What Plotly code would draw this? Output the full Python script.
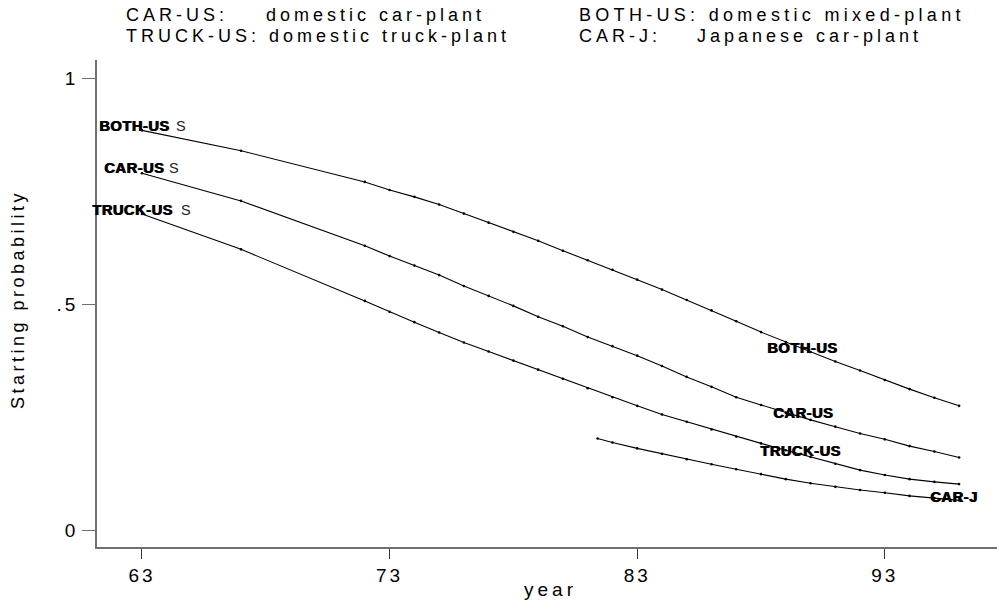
import plotly.graph_objects as go

# ---------------- data ----------------
years = [63, 67, 72, 73, 74, 75, 76, 77, 78, 79, 80, 81, 82, 83, 84, 85, 86, 87,
         88, 89, 90, 91, 92, 93, 94, 95, 96]
both_us = [0.885, 0.840, 0.771, 0.753, 0.738, 0.721, 0.701, 0.681, 0.661, 0.641,
           0.619, 0.598, 0.577, 0.555, 0.533, 0.510, 0.487, 0.463, 0.439, 0.417,
           0.395, 0.374, 0.354, 0.333, 0.313, 0.294, 0.276]
car_us = [0.790, 0.729, 0.630, 0.607, 0.586, 0.565, 0.541, 0.519, 0.497, 0.473,
          0.452, 0.428, 0.408, 0.387, 0.364, 0.340, 0.318, 0.295, 0.278, 0.261,
          0.245, 0.230, 0.215, 0.202, 0.187, 0.175, 0.162]
truck_us = [0.700, 0.622, 0.508, 0.484, 0.461, 0.438, 0.416, 0.396, 0.376, 0.356,
            0.336, 0.315, 0.295, 0.276, 0.257, 0.241, 0.224, 0.208, 0.193, 0.178,
            0.163, 0.148, 0.134, 0.123, 0.114, 0.108, 0.103]
years_j = [81.4, 82, 83, 84, 85, 86, 87, 88, 89, 90, 91, 92, 93, 94, 95, 96]
car_j = [0.204, 0.195, 0.182, 0.170, 0.158, 0.147, 0.136, 0.125, 0.114, 0.105,
         0.097, 0.090, 0.084, 0.077, 0.072, 0.067]

x_ticks = [63, 73, 83, 93]
x_tick_labels = ["63", "73", "83", "93"]
y_ticks = [0, 0.5, 1]
y_tick_labels = ["0", ".5", "1"]

series_names = ["BOTH-US", "CAR-US", "TRUCK-US", "CAR-J"]
header_items = [
    ("CAR-US:", 124, 15.5, 4), ("domestic car-plant", 264, 15.5, 4),
    ("BOTH-US: domestic mixed-plant", 577, 15.5, 4.3),
    ("TRUCK-US: domestic truck-plant", 124, 35.5, 4),
    ("CAR-J:", 577, 35.5, 4), ("Japanese car-plant", 695, 35.5, 4),
]

FONT = "Liberation Sans, Arial, Helvetica, sans-serif"


def sp(text, ls):
    return f'<span style="letter-spacing:{ls}px">{text}</span>'


# ---------------- geometry (pixels) ----------------
W, H = 997, 603
L, R, T, B = 97, 0, 60, 56
PW, PH = W - L - R, H - T - B


def px(xs):
    return (xs - L) / PW


def py(ys):
    return (H - B - ys) / PH


fig = go.Figure()
all_series = [(years, both_us), (years, car_us), (years, truck_us), (years_j, car_j)]
for name, (xs, ys) in zip(series_names, all_series):
    fig.add_trace(go.Scatter(
        x=xs, y=ys, mode="lines+markers", name=name,
        line=dict(color="black", width=1.1),
        marker=dict(color="black", size=2.6),
        hoverinfo="x+y+name", showlegend=False,
    ))

ann = []


def bold_label(x, y, name, xshift=0, yshift=0):
    for dx in (0, 1):
        ann.append(dict(x=x, y=y, xref="x", yref="y", showarrow=False,
                        text="<b>" + sp(name, 0.6) + "</b>", xanchor="center",
                        yanchor="middle", xshift=xshift + dx, yshift=yshift,
                        font=dict(family=FONT, size=14.5, color="black")))


# labels at the start of the US curves (overprinted look)
start_specs = [
    (both_us, -8.3, 4.6, 38.8),
    (car_us, -8.2, 5.0, 31.8),
    (truck_us, -9.4, 4.0, 43.8),
]
for name, (ys, xs_b, ys_b, xs_s) in zip(series_names[:3], start_specs):
    bold_label(years[0], ys[0], name, xs_b, ys_b)
    ann.append(dict(x=years[0], y=ys[0], xref="x", yref="y", showarrow=False,
                    text="S", xanchor="center", yanchor="middle",
                    xshift=xs_s, yshift=ys_b,
                    font=dict(family=FONT, size=14.5, color="#222")))

# labels near the end of each curve
end_label_pos = [(89.67, 0.4045), (89.7, 0.260), (89.6, 0.177), (95.77, 0.075)]
for name, (lx, ly) in zip(series_names, end_label_pos):
    bold_label(lx, ly, name)

# two-line header
for txt, xx, yy, ls in header_items:
    ann.append(dict(x=px(xx), y=py(yy), xref="paper", yref="paper", showarrow=False,
                    text=sp(txt, ls), xanchor="left", yanchor="middle",
                    font=dict(family=FONT, size=18, color="black")))

# axis titles
ann.append(dict(x=px(550), y=py(589), xref="paper", yref="paper", showarrow=False,
                text=sp("year", 4), xanchor="center", yanchor="middle",
                font=dict(family=FONT, size=19, color="black")))
ann.append(dict(x=px(18), y=py(300), xref="paper", yref="paper", showarrow=False,
                text=sp("Starting probability", 3.5), xanchor="center", yanchor="middle",
                textangle=-90, font=dict(family=FONT, size=18, color="black")))

fig.update_layout(
    width=W, height=H,
    margin=dict(l=L, r=R, t=T, b=B, pad=0),
    paper_bgcolor="white", plot_bgcolor="white",
    annotations=ann,
    font=dict(family=FONT, size=18, color="black"),
)
fig.update_xaxes(
    range=[61.183, 97.53], tickmode="array", tickvals=x_ticks,
    ticktext=[sp(t, 3) for t in x_tick_labels],
    showgrid=False, zeroline=False, showline=True, linecolor="#707070", linewidth=1.6,
    ticks="outside", ticklen=10, tickwidth=1, tickcolor="#333",
    tickfont=dict(family=FONT, size=19, color="black"),
)
fig.update_yaxes(
    range=[-0.036, 1.0405], tickmode="array", tickvals=y_ticks,
    ticktext=[sp(t, 3) for t in y_tick_labels],
    showgrid=False, zeroline=False, showline=True, linecolor="#707070", linewidth=1.6,
    ticks="outside", ticklen=13, tickwidth=1.4, tickcolor="#707070",
    tickfont=dict(family=FONT, size=19, color="black"),
)

fig.write_html(
    "out.html",
    config={"displayModeBar": False},
    post_script="document.body.style.margin='0';document.body.style.overflow='hidden';",
)
